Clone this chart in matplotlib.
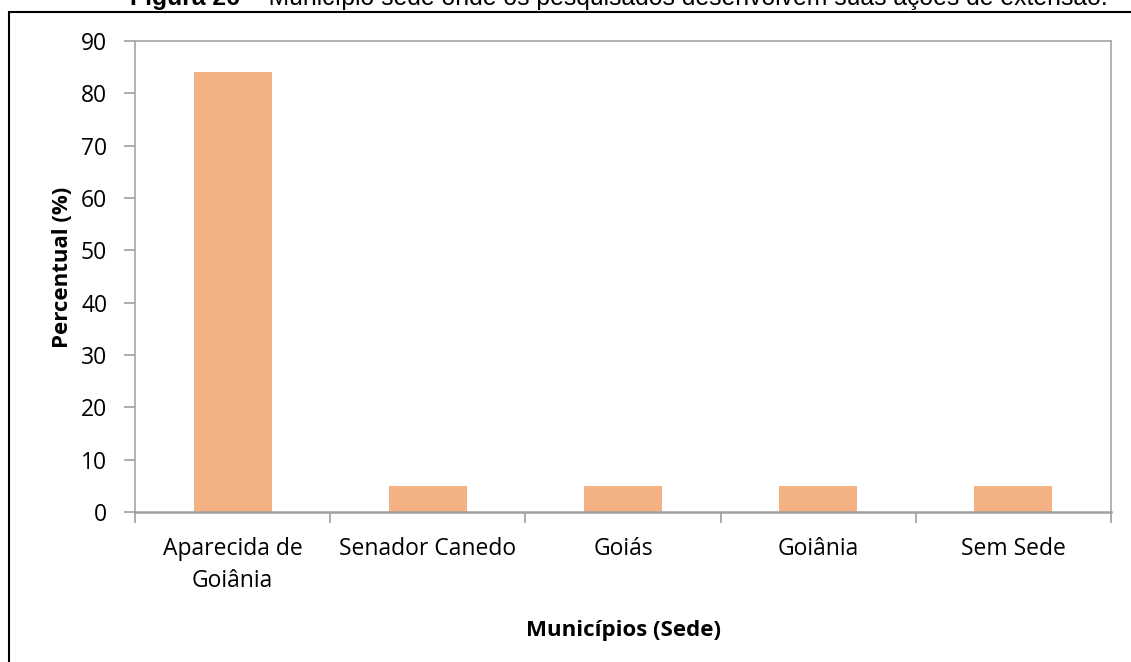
import matplotlib.pyplot as plt
from matplotlib.patches import Rectangle
import numpy as np

municipios = ["Aparecida de\nGoiânia", "Senador Canedo", "Goiás", "Goiânia", "Sem Sede"]
percentual = [84, 5, 5, 5, 5]
y_ticks = [0, 10, 20, 30, 40, 50, 60, 70, 80, 90]

plt.rcParams['font.family'] = ['Open Sans', 'DejaVu Sans']

fig = plt.figure(figsize=(11.31, 6.62), dpi=100)
ax = fig.add_axes([135 / 1131, 1 - 512 / 662, 976 / 1131, 471 / 662])

x = np.arange(len(municipios))
ax.bar(x, percentual, width=0.4, color="#F4B183", zorder=2)

ax.set_xlim(-0.5, len(municipios) - 0.5)
ax.set_ylim(0, 90)
ax.set_yticks(y_ticks)
ax.set_xticks(x)
ax.set_xticklabels(municipios, fontsize=16.5, linespacing=1.45)
ax.set_xticks(np.arange(-0.5, len(municipios)), minor=True)
ax.tick_params(axis='x', which='major', length=0, pad=18)
ax.tick_params(axis='x', which='minor', length=8, width=1.2, color="#A0A0A0", direction='out')
ax.tick_params(axis='y', length=8, width=1.2, color="#A0A0A0", labelsize=16.5, pad=12)

for side in ['left', 'right', 'top']:
    ax.spines[side].set_color("#A6A6A6")
    ax.spines[side].set_linewidth(1.2)
ax.spines['bottom'].set_color("#A0A0A0")
ax.spines['bottom'].set_linewidth(1.8)

ax.set_ylabel("Percentual (%)", fontsize=16, fontweight='bold')
ax.yaxis.set_label_coords(-62 / 976, 0.52)
ax.set_xlabel("Municípios (Sede)", fontsize=16, fontweight='bold')
ax.xaxis.set_label_coords(0.5, -(620 - 512) / 471)

# moldura externa (só topo e esquerda aparecem)
fig.patches.append(Rectangle((9 / 1131, -0.2), 1.2, 1.2 - 12 / 662,
                             transform=fig.transFigure, fill=False,
                             edgecolor="black", linewidth=1.5))

# título cortado no topo, como no original
fig.canvas.draw()
renderer = fig.canvas.get_renderer()
title_y = 1 - 5 / 662
t1 = fig.text(130 / 1131, title_y, "Figura 26", fontsize=17.8, fontweight='bold',
              family='Liberation Sans', va='baseline')
bb = t1.get_window_extent(renderer)
fig.text((bb.x1 + 1) / fig.bbox.width, title_y,
         " – Município sede onde os pesquisados desenvolvem suas ações de extensão.",
         fontsize=17.8, family='Liberation Sans', va='baseline')

fig.savefig("out.png", dpi=100)
